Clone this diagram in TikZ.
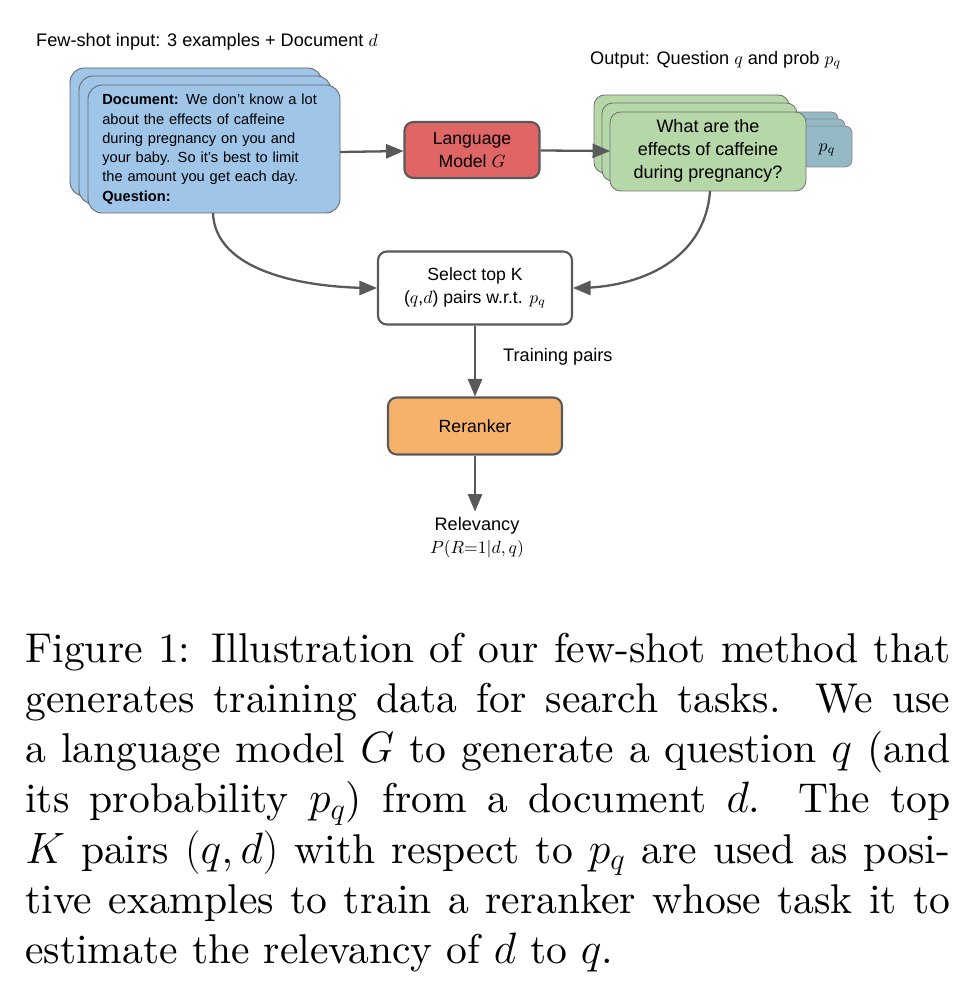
\documentclass[tikz,border=0pt]{standalone}
\usepackage{fontspec}
\setmainfont{Liberation Sans}
\newfontfamily\capfont{lmroman10-regular}[Extension=.otf,ItalicFont=lmroman10-italic]
\usetikzlibrary{arrows}
\definecolor{docblue}{RGB}{159,197,232}
\definecolor{lmred}{RGB}{224,102,102}
\definecolor{qgreen}{RGB}{182,215,168}
\definecolor{pteal}{RGB}{147,186,196}
\definecolor{rrorange}{RGB}{246,178,107}
\definecolor{edge}{RGB}{89,89,89}

\begin{document}
\begin{tikzpicture}[x=0.567pt,y=-0.567pt,>=triangle 45,
    box/.style={draw=edge,line width=1.2pt,rounded corners=5pt},
    doc/.style={draw=black!60,fill=docblue,rounded corners=8pt,line width=0.5pt},
    qbox/.style={draw=black!55,fill=qgreen,rounded corners=6pt,line width=0.5pt},
    pbox/.style={draw=black!45,fill=pteal,rounded corners=4pt,line width=0.5pt},
    flow/.style={->,draw=edge,line width=1.3pt},
    lbl/.style={font=\fontsize{10.3}{13}\selectfont}]
  \useasboundingbox (0,0) rectangle (964,994);
  % document stack
  \draw [doc] (70,68) rectangle (322,196);
  \draw [doc] (79,76) rectangle (331,204);
  \draw [doc] (88,85) rectangle (340,213);
  \node [anchor=north west,align=left,inner sep=0pt,
    font=\fontsize{8.3}{10.9}\selectfont,text width=125pt] (doc) at (102,94)
    {\textbf{Document:} We don't know a lot\\ about the effects of caffeine\\ during pregnancy on you and\\ your baby. So it's best to limit\\ the amount you get each day.\\ \textbf{Question:}};
  \coordinate (docR) at (340,152);
  \coordinate (docB) at (213,213);
  \node [lbl,anchor=west] (fewshot) at (30,42) {Few-shot input: 3 examples + Document $d$};
  % language model
  \node [box,fill=lmred,minimum width=135*0.567pt,minimum height=56*0.567pt,align=center,
    font=\fontsize{10}{12.5}\selectfont] (lm) at (472,150) {Language\\ Model $G$};
  % question stack with probabilities
  \draw [pbox] (780,112) rectangle (838,152);
  \draw [pbox] (788,119) rectangle (845,160);
  \draw [pbox] (796,126) rectangle (852,167);
  \node [font=\fontsize{10}{12}\selectfont] (pq) at (827,150) {$p_q$};
  \draw [qbox] (594,95) rectangle (789,173);
  \draw [qbox] (602,103) rectangle (797,181);
  \draw [qbox] (610,112) rectangle (806,191);
  \node [align=center,font=\fontsize{10.2}{13.2}\selectfont] (q) at (708,151)
    {What are the\\ effects of caffeine\\ during pregnancy?};
  \coordinate (qL) at (610,151);
  \coordinate (qB) at (710,191);
  \node [lbl,anchor=west] (output) at (584,60) {Output: Question $q$ and prob $p_q$};
  % select, reranker, output
  \node [box,fill=white,minimum width=194*0.567pt,minimum height=73*0.567pt,align=center,
    font=\fontsize{10}{13}\selectfont] (sel) at (475,288) {Select top K\\ ($q$,$d$) pairs w.r.t. $p_q$};
  \node [box,fill=rrorange,minimum width=174*0.567pt,minimum height=57*0.567pt,
    font=\fontsize{10}{12}\selectfont] (rr) at (475,426) {Reranker};
  \node [lbl,anchor=west] (train) at (497,357) {Training pairs};
  \node [lbl,align=center] (rel) at (477,538) {Relevancy\\ $P(R{=}1|d,q)$};
  \draw [flow] (docR) -- (lm);
  \draw [flow] (lm) -- (qL);
  \draw [flow] (docB) .. controls (215,270) and (300,288) .. (sel.west);
  \draw [flow] (qB) .. controls (705,260) and (640,288) .. (sel.east);
  \draw [flow] (sel) -- (rr);
  \draw [flow] (rr) -- (rr |- rel.north);
  % caption
  \node [anchor=north west,inner sep=0pt,text width=925*0.567pt,align=justify,
    font=\capfont\fontsize{23.6}{28.4}\selectfont] (cap) at (25,633)
    {Figure 1: Illustration of our few-shot method that\linebreak
    generates training data for search tasks. We use\linebreak
    a language model $G$ to generate a question $q$ (and\linebreak
    its probability $p_q$) from a document $d$. The top\linebreak
    $K$ pairs $(q,d)$ with respect to $p_q$ are used as posi-\linebreak
    tive examples to train a reranker whose task it to\linebreak
    estimate the relevancy of $d$ to $q$.};
\end{tikzpicture}
\end{document}
